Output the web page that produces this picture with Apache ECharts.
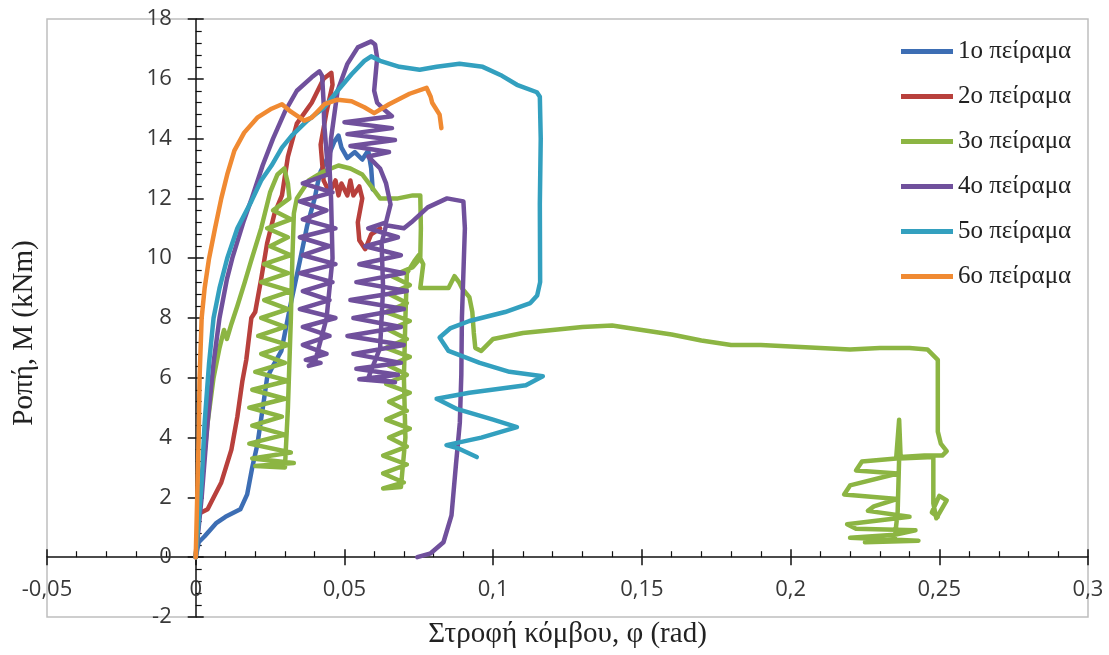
<!DOCTYPE html>
<html>
<head>
<meta charset="utf-8">
<script src="https://cdn.jsdelivr.net/npm/echarts@6/dist/echarts.min.js"></script>
<style>
html,body{margin:0;padding:0;background:#fff;}
#chart{width:1109px;height:655px;}
</style>
</head>
<body>
<div id="chart"></div>
<script>
// ---- data (rotation φ [rad], moment M [kNm]) ----
const seriesNames = ['1ο πείραμα','2ο πείραμα','3ο πείραμα','4ο πείραμα','5ο πείραμα','6ο πείραμα'];

const exp1 = [[0,0],[0.001,0.5],[0.003,0.7],[0.007,1.15],[0.01,1.35],[0.013,1.5],[0.015,1.6],[0.0173,2.1],[0.019,3.0],[0.0207,3.75],[0.023,5.3],[0.024,6.0],[0.026,6.4],[0.0288,6.9],[0.032,8.5],[0.035,9.9],[0.0375,11.1],[0.04,12.0],[0.041,12.5],[0.042,12.9],[0.0443,13.35],[0.0466,13.9],[0.048,14.1],[0.049,13.7],[0.051,13.35],[0.0535,13.55],[0.056,13.3],[0.058,13.6],[0.059,13.0],[0.0595,12.3]];

const exp2 = [[0,0],[0.001,1.6],[0.002,1.5],[0.004,1.6],[0.006,2.0],[0.0086,2.5],[0.012,3.6],[0.014,4.7],[0.0157,5.9],[0.017,6.6],[0.0187,8.0],[0.020,8.2],[0.022,9.3],[0.024,10.5],[0.0265,11.5],[0.029,12.1],[0.031,13.4],[0.034,14.5],[0.039,15.2],[0.043,16.0],[0.0456,16.2],[0.046,15.8],[0.044,14.9],[0.042,13.8],[0.043,12.6],[0.045,12.2],[0.047,12.6],[0.048,12.1],[0.049,12.5],[0.051,12.1],[0.052,12.6],[0.053,12.1],[0.055,12.4],[0.056,12.0],[0.0545,11.2],[0.055,10.6],[0.057,10.3],[0.059,10.8],[0.062,11.0]];

const exp3 = [[0,0],[0.002,2.5],[0.004,4.5],[0.006,6],[0.008,7.0],[0.0095,7.6],[0.0105,7.3],[0.012,7.8],[0.014,8.4],[0.0165,9.2],[0.0186,9.9],[0.022,11.0],[0.025,12.2],[0.0275,12.8],[0.0298,13.0],[0.031,12.5],[0.0315,12.0],
[0.026,11.6],[0.032,11.3],[0.024,11.0],[0.031,10.7],[0.025,10.4],[0.032,10.1],[0.023,9.8],[0.031,9.5],[0.022,9.2],[0.032,8.9],[0.023,8.6],[0.031,8.3],[0.022,8.0],[0.030,7.7],[0.021,7.4],[0.031,7.1],[0.022,6.8],[0.030,6.5],[0.020,6.2],[0.031,5.9],[0.019,5.6],[0.030,5.3],[0.018,5.0],[0.029,4.7],[0.019,4.4],[0.030,4.1],[0.018,3.8],[0.032,3.5],[0.019,3.3],[0.033,3.15],[0.020,3.05],[0.030,3.0],
[0.031,5],[0.032,8],[0.0325,10],[0.033,11.5],[0.034,12.0],
[0.038,12.6],[0.043,12.9],[0.048,13.1],[0.052,13.0],[0.056,12.8],[0.059,12.4],[0.062,12.0],[0.068,12.0],[0.073,12.1],[0.0755,12.1],[0.0757,11.0],[0.0755,10],
[0.073,9.7],[0.066,9.4],[0.072,9.1],[0.065,8.8],[0.071,8.5],[0.064,8.2],[0.072,7.9],[0.065,7.6],[0.071,7.3],[0.064,7.0],[0.072,6.7],[0.065,6.4],[0.071,6.1],[0.064,5.8],[0.072,5.5],[0.065,5.2],[0.071,4.9],[0.064,4.6],[0.072,4.3],[0.065,4.0],[0.071,3.7],[0.063,3.4],[0.071,3.1],[0.063,2.8],[0.070,2.5],[0.063,2.3],[0.069,2.35],
[0.0705,4],[0.070,6],[0.0705,8],[0.071,9.5],[0.0735,9.9],[0.075,10.1],[0.0765,9.8],[0.0755,9.0],
[0.080,9.0],[0.085,9.0],[0.087,9.4],[0.0885,9.2],[0.0895,9.0],[0.092,8.7],[0.093,8.2],[0.0935,7.5],[0.094,7.0],[0.096,6.9],[0.098,7.1],
[0.1,7.3],[0.11,7.5],[0.12,7.6],[0.13,7.7],[0.14,7.75],[0.15,7.6],[0.16,7.45],[0.17,7.25],[0.18,7.1],[0.19,7.1],[0.2,7.05],[0.21,7.0],[0.22,6.95],[0.23,7.0],[0.24,7.0],[0.246,6.95],[0.2495,6.6],[0.2495,5.5],[0.2495,4.2],[0.2505,3.8],[0.2525,3.55],[0.251,3.4],[0.245,3.4],[0.237,3.35],
[0.2365,4.6],[0.2355,3.3],
[0.224,3.2],[0.222,2.9],[0.236,2.8],[0.22,2.4],[0.218,2.1],[0.236,1.95],[0.228,1.7],[0.226,1.55],[0.24,1.35],[0.219,1.1],[0.222,0.95],[0.242,0.9],[0.235,0.75],[0.22,0.65],[0.243,0.55],[0.225,0.5],[0.235,0.6],
[0.236,1.5],[0.2365,3.3],[0.248,3.35],[0.248,1.8],[0.249,1.3],[0.2525,1.9],[0.250,2.05],[0.2475,1.5],[0.2495,1.35]];

const exp4 = [[0,0],[0.002,2],[0.004,4.5],[0.006,6.5],[0.008,8],[0.0105,9.3],[0.0123,10],[0.016,11.2],[0.019,12.05],[0.0225,13.1],[0.026,14.0],[0.030,14.9],[0.034,15.6],[0.039,16.05],[0.0416,16.25],[0.0425,16.1],[0.043,15.2],[0.0432,14.5],[0.044,13.5],[0.0445,12.8],
[0.036,12.5],[0.046,12.2],[0.035,11.9],[0.044,11.6],[0.036,11.3],[0.047,11.0],[0.035,10.7],[0.045,10.4],[0.036,10.1],[0.047,9.8],[0.035,9.5],[0.046,9.2],[0.036,8.9],[0.045,8.6],[0.035,8.3],[0.047,8.0],[0.036,7.7],[0.045,7.4],[0.036,7.1],[0.044,6.8],[0.037,6.6],[0.042,6.5],[0.038,6.4],[0.040,6.5],
[0.044,8],[0.046,10],[0.0455,12],[0.045,13],[0.0455,14],[0.0477,15.6],[0.051,16.5],[0.0545,17.05],[0.059,17.25],[0.0603,17.15],[0.061,16.7],[0.060,15.6],[0.061,15.2],[0.063,15.0],
[0.066,14.75],[0.050,14.55],[0.066,14.35],[0.051,14.15],[0.067,13.95],[0.052,13.75],[0.065,13.55],[0.058,13.4],[0.062,13.0],[0.064,12.5],[0.0655,11.8],[0.064,11.2],
[0.058,11.0],[0.068,10.7],[0.057,10.4],[0.069,10.1],[0.055,9.8],[0.070,9.5],[0.054,9.2],[0.071,8.9],[0.052,8.6],[0.070,8.3],[0.053,8.0],[0.069,7.7],[0.051,7.4],[0.070,7.1],[0.053,6.8],[0.069,6.5],[0.054,6.3],[0.068,6.1],[0.055,5.95],[0.067,5.85],[0.058,6.0],
[0.062,7],[0.063,9],[0.0625,10.5],[0.064,11.1],[0.07,11.0],[0.0725,11.2],[0.078,11.7],[0.0845,12.0],[0.090,11.9],[0.0905,11],[0.0895,8],[0.0893,6.1],[0.0888,4.5],[0.0875,3.1],[0.086,1.4],[0.0833,0.5],[0.079,0.13],[0.0745,0]];

const exp5 = [[0,0],[0.002,2.5],[0.003,4.5],[0.0045,6.5],[0.006,8],[0.008,9],[0.0106,10],[0.014,11],[0.0187,11.9],[0.022,12.6],[0.0255,13.1],[0.029,13.7],[0.0323,14.1],[0.0375,14.6],[0.0433,15.05],[0.0477,15.6],[0.0524,16.15],[0.0567,16.6],[0.059,16.75],[0.062,16.6],[0.0685,16.4],[0.0753,16.3],[0.081,16.4],[0.0887,16.5],[0.0965,16.4],[0.103,16.1],[0.108,15.8],[0.1147,15.55],[0.1157,15.4],[0.116,14],[0.1157,11.8],[0.1158,9.2],[0.1148,8.75],[0.1125,8.5],[0.104,8.2],[0.092,7.9],[0.0855,7.65],[0.082,7.35],[0.085,6.9],[0.0955,6.5],[0.1055,6.2],[0.1167,6.05],[0.111,5.75],[0.092,5.5],[0.081,5.3],[0.088,4.95],[0.1,4.6],[0.108,4.35],[0.096,4.0],[0.0843,3.75],[0.088,3.65],[0.0945,3.35]];

const exp6 = [[0,0],[0.0005,2],[0.001,4],[0.0013,6],[0.002,8],[0.003,9],[0.0045,10],[0.0065,11],[0.0086,12],[0.0106,12.8],[0.013,13.6],[0.0163,14.2],[0.0207,14.7],[0.0255,15.0],[0.029,15.15],[0.032,14.9],[0.0365,14.6],[0.039,14.7],[0.0433,15.15],[0.0477,15.3],[0.0524,15.25],[0.0567,15.05],[0.06,14.85],[0.065,15.15],[0.0719,15.5],[0.0776,15.7],[0.079,15.4],[0.0795,15.2],[0.082,14.8],[0.0826,14.35]];

const colors = ['#3D6EB4','#B8403C','#8CB543','#70509C','#33A0BF','#F08A32'];
const allData = [exp1, exp2, exp3, exp4, exp5, exp6];

const X_MIN = -0.05, X_MAX = 0.3, X_STEP = 0.05;
const Y_MIN = -2, Y_MAX = 18, Y_STEP = 2;

// plot-area box (px)
const W = 1109, H = 655;
const G = {left:47, right:21, top:19, bottom:38};
const plotW = W - G.left - G.right, plotH = H - G.top - G.bottom;
// distance of the zero lines from the box edges, so the axes cross at (0,0)
const xZeroFromLeft = (0 - X_MIN) / (X_MAX - X_MIN) * plotW;
const xZeroFromRight = plotW - xZeroFromLeft;
const yZeroFromBottom = (0 - Y_MIN) / (Y_MAX - Y_MIN) * plotH;
const yZeroFromTop = plotH - yZeroFromBottom;

const chart = echarts.init(document.getElementById('chart'), null, {renderer:'canvas'});
const labelFont = {fontFamily:'Open Sans', fontSize:22, color:'#383838'};
const fmtX = v => String(Math.round(v*100)/100).replace('.', ',');
const tickStyle = {color:'#111', width:1.5};

const option = {
  animation:false,
  backgroundColor:'#fff',
  color: colors,
  grid:{left:G.left, right:G.right, top:G.top, bottom:G.bottom, show:true, borderColor:'#BFBFBF', borderWidth:1.5, containLabel:false, outerBoundsMode:'none'},
  legend:{
    orient:'vertical', left:896, top:34, itemWidth:52, itemHeight:5, itemGap:20, icon:'rect',
    textStyle:{fontFamily:'Liberation Serif', fontSize:25, color:'#222', lineHeight:25},
    data: seriesNames
  },
  xAxis:[{
    type:'value', min:X_MIN, max:X_MAX, interval:X_STEP, position:'bottom', offset:-yZeroFromBottom,
    axisLine:{onZero:false, lineStyle:tickStyle},
    axisTick:{inside:true, length:8, lineStyle:tickStyle},
    minorTick:{show:true, splitNumber:5, length:6, lineStyle:{color:'#111', width:1.2}},
    splitLine:{show:false},
    axisLabel:{...labelFont, margin:22, formatter:fmtX, showMinLabel:true, showMaxLabel:true},
    name:'Στροφή κόμβου, φ (rad)', nameLocation:'middle', nameGap:63,
    nameTextStyle:{fontFamily:'Liberation Serif', fontSize:29, color:'#222'}
  },{
    type:'value', position:'top', offset:-yZeroFromTop, min:X_MIN, max:X_MAX, interval:X_STEP,
    axisLine:{show:false, onZero:false},
    axisTick:{inside:true, length:8, lineStyle:tickStyle},
    axisLabel:{show:false}, splitLine:{show:false}
  }],
  yAxis:[{
    type:'value', min:Y_MIN, max:Y_MAX, interval:Y_STEP, position:'left', offset:-xZeroFromLeft,
    axisLine:{onZero:false, lineStyle:tickStyle},
    axisTick:{inside:true, length:8, lineStyle:tickStyle},
    minorTick:{show:true, splitNumber:5, length:6, lineStyle:{color:'#111', width:1.2}},
    splitLine:{show:false},
    axisLabel:{...labelFont, margin:24, showMinLabel:true, showMaxLabel:true},
    name:'Ροπή, M (kNm)', nameLocation:'middle', nameGap:157, nameRotate:90,
    nameTextStyle:{fontFamily:'Liberation Serif', fontSize:29, color:'#222', padding:[0,30,0,0]}
  },{
    type:'value', position:'right', offset:-xZeroFromRight, min:Y_MIN, max:Y_MAX, interval:Y_STEP,
    axisLine:{show:false, onZero:false},
    axisTick:{inside:true, length:8, lineStyle:tickStyle},
    axisLabel:{show:false}, splitLine:{show:false}
  }],
  series: allData.map((d,i)=>({
    name: seriesNames[i], type:'line', data:d, xAxisIndex:0, yAxisIndex:0,
    showSymbol:false, symbol:'none', smooth:false,
    lineStyle:{width:4.5, color:colors[i], join:'round', cap:'round'},
    itemStyle:{color:colors[i]}
  }))
};
chart.setOption(option);
</script>
</body>
</html>
